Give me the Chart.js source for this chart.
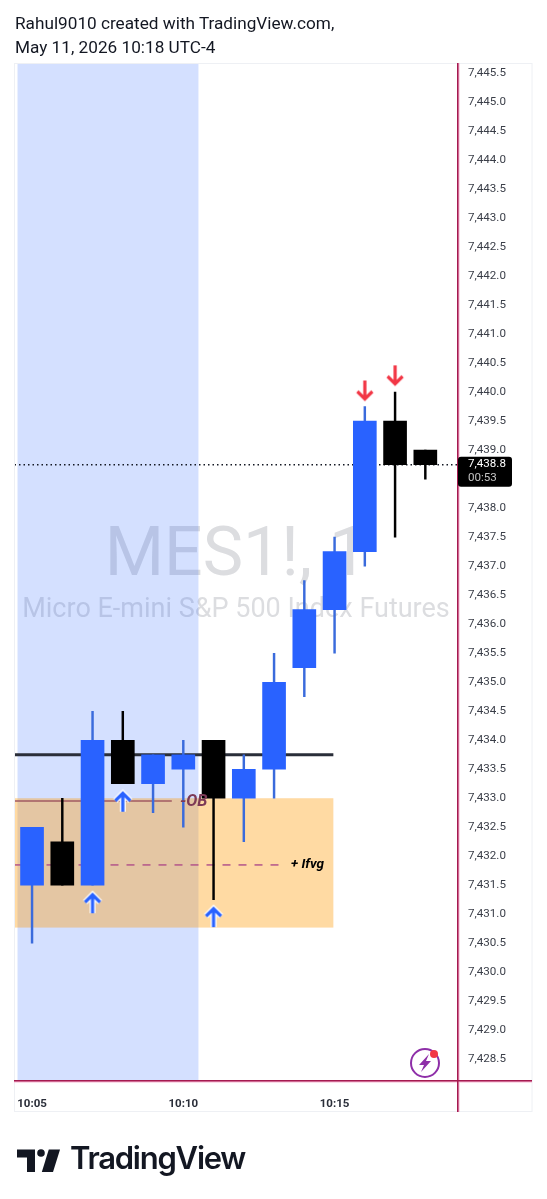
<!DOCTYPE html>
<html>
  <head>
    <script src="https://cdn.jsdelivr.net/npm/chart.js@4"></script>
    <style>
      html, body { margin: 0; padding: 0; background: #fff; }
      #wrap { position: relative; width: 547px; height: 1199px; overflow: hidden; }
      canvas { position: absolute; left: 0; top: 0; }
      .title { position: absolute; left: 15px; font: 17.2px Roboto, sans-serif; color: #131722; white-space: nowrap; }
      #brand { position: absolute; left: 70px; top: 1139px; font: 600 31px Inter, sans-serif; letter-spacing: -1.25px; color: #131722; }
      svg { position: absolute; left: 0; top: 0; }
    </style>
  </head>
  <body>
    <div id="wrap">
      <canvas id="myChart" width="547" height="1199"></canvas>
      <div class="title" style="top:13px">Rahul9010 created with TradingView.com,</div>
      <div class="title" style="top:37px">May 11, 2026 10:18 UTC-4</div>
      <svg width="547" height="1199">
        <path d="M17 1149.5H35V1172H27V1157.5H17Z" fill="#131722"/>
        <circle cx="41" cy="1153" r="3.8" fill="#131722"/>
        <path d="M48.8 1149.5H60L53 1172H41.8Z" fill="#131722"/>
        <circle cx="425" cy="1063" r="14" fill="none" stroke="#8e2fa8" stroke-width="2"/>
        <path d="M429 1054L419 1065H424L421 1072L431 1061H426Z" fill="#8e2fa8"/>
        <circle cx="434" cy="1054" r="4" fill="#f23645"/>
      </svg>
      <div id="brand">TradingView</div>
    </div>

    <script>
      var timeTicks = [0, 5, 10];
      var timeLabels = ["10:05", "10:10", "10:15"];

      var openArr  = [7431.5, 7432.25, 7431.5, 7434, 7433.25, 7433.5, 7434, 7433, 7433.5, 7435.25, 7436.25, 7437.25, 7439.5, 7439];
      var closeArr = [7432.5, 7431.5, 7434, 7433.25, 7433.75, 7433.75, 7433, 7433.5, 7435, 7436.25, 7437.25, 7439.5, 7438.75, 7438.75];
      var highArr  = [7432.5, 7433, 7434.5, 7434.5, 7433.75, 7434, 7434, 7433.75, 7435.5, 7436.75, 7437.5, 7439.75, 7440, 7439];
      var lowArr   = [7430.5, 7431.5, 7431.5, 7433.25, 7432.75, 7432.5, 7431.25, 7432.25, 7433, 7434.75, 7435.5, 7437, 7437.5, 7438.5];

      var upArrowX = [2, 3, 6];
      var upArrowY = [7431.19, 7432.94, 7430.95];
      var downArrowX = [11, 12];
      var downArrowY = [7440.03, 7440.29];

      var sessionBand = [-0.48, 5.5];
      var zoneX = [-0.58, 9.96];
      var zoneY = [7433, 7430.77];

      var lastPrice = 7438.75;
      var blackLevel = 7433.75;
      var obLevel = 7432.95;
      var obEnd = 4.62;
      var ifvgLevel = 7431.85;
      var ifvgEnd = 8.3;

      var candleData = [], wickData = [], candleColors = [], wickColors = [];
      for (var i = 0; i < openArr.length; i++) {
        candleData.push({ x: i, y: [openArr[i], closeArr[i]] });
        wickData.push({ x: i, y: [lowArr[i], highArr[i]] });
        var up = closeArr[i] > openArr[i];
        candleColors.push(up ? "#2962ff" : "#000000");
        wickColors.push(up ? "#3a6bdc" : "#000000");
      }

      function arrowImage(color, down, outline) {
        var c = document.createElement("canvas");
        c.width = 28; c.height = 30;
        var g = c.getContext("2d");
        g.translate(14, 15);
        if (down) g.scale(1, -1);
        function path() {
          g.beginPath();
          g.moveTo(0, 10); g.lineTo(0, -8.5);
          g.moveTo(-7.5, -1); g.lineTo(0, -8.5); g.lineTo(7.5, -1);
        }
        if (outline) { g.strokeStyle = "#fff"; g.lineWidth = 6; path(); g.stroke(); }
        g.strokeStyle = color; g.lineWidth = 3.2; path(); g.stroke();
        return c;
      }

      function levelLine(y, x0, x1, color, width, dash) {
        return {
          type: "line",
          data: [{ x: x0, y: y }, { x: x1, y: y }],
          borderColor: color,
          borderWidth: width,
          borderDash: dash || [],
          pointRadius: 0,
          order: 10
        };
      }

      var backdrop = {
        id: "backdrop",
        beforeDatasetsDraw: function (chart) {
          var g = chart.ctx, a = chart.chartArea, sx = chart.scales.x, sy = chart.scales.y;
          g.save();
          g.textAlign = "center";
          g.textBaseline = "alphabetic";
          g.fillStyle = "#dcdde0";
          g.font = "68px Roboto";
          g.fillText("MES1!, 1", 236, 575);
          g.font = "27px Roboto";
          g.fillText("Micro E-mini S&P 500 Index Futures", 236, 617);
          g.fillStyle = "rgba(41,98,255,0.2)";
          var bx0 = sx.getPixelForValue(sessionBand[0]), bx1 = sx.getPixelForValue(sessionBand[1]);
          g.fillRect(bx0, a.top, bx1 - bx0, a.bottom - a.top);
          g.fillStyle = "rgba(255,152,0,0.36)";
          var zx0 = sx.getPixelForValue(zoneX[0]), zx1 = sx.getPixelForValue(zoneX[1]);
          var zy0 = sy.getPixelForValue(zoneY[0]), zy1 = sy.getPixelForValue(zoneY[1]);
          g.fillRect(zx0, zy0, zx1 - zx0, zy1 - zy0);
          g.restore();
        },
        afterDatasetsDraw: function (chart) {
          var g = chart.ctx, a = chart.chartArea, sx = chart.scales.x, sy = chart.scales.y;
          g.save();
          g.textBaseline = "middle";
          g.textAlign = "left";
          g.fillStyle = "#7d3a56";
          g.font = "italic bold 16.5px Roboto";
          g.fillText("-OB", 180, sy.getPixelForValue(obLevel) + 1);
          g.fillStyle = "#000";
          g.font = "italic bold 13.5px Roboto";
          g.fillText("+ Ifvg", 291, sy.getPixelForValue(ifvgLevel));

          // frame and crosshair lines
          g.strokeStyle = "#eef0f4";
          g.lineWidth = 1;
          g.strokeRect(14.5, 63.5, 517.5, 1048);
          g.fillStyle = "#f7b6d2";
          g.fillRect(a.right, a.top, 1.5, 1112 - a.top);
          g.fillRect(14, a.bottom, 518, 1.5);
          g.fillStyle = "#a51a50";
          g.fillRect(a.right - 1, a.top, 1.5, 1112 - a.top);
          g.fillRect(14, a.bottom - 1, 518, 1.5);

          // last price tag
          var py = sy.getPixelForValue(lastPrice);
          g.fillStyle = "#000";
          g.beginPath();
          g.roundRect(a.right, py - 8, 54, 30, 3);
          g.fill();
          g.textAlign = "left";
          g.fillStyle = "#fff";
          g.font = "11.6px Roboto";
          g.fillText("7,438.8", a.right + 10, py - 0.5);
          g.fillStyle = "#c4c4c4";
          g.fillText("00:53", a.right + 10, py + 13.5);
          g.restore();
        }
      };

      new Chart("myChart", {
        type: "bar",
        data: {
          datasets: [
            levelLine(lastPrice, -0.58, 14.08, "#131722", 1.5, [1.5, 3]),
            levelLine(blackLevel, zoneX[0], zoneX[1], "#2a2e39", 3),
            levelLine(obLevel, zoneX[0], obEnd, "#a25a62", 1.5),
            levelLine(ifvgLevel, zoneX[0], ifvgEnd, "#b3568a", 1.5, [8, 8]),
            { data: wickData, backgroundColor: wickColors, barThickness: 1.8, grouped: false, order: 5 },
            { data: candleData, backgroundColor: candleColors, barThickness: 23, grouped: false, order: 4 },
            {
              type: "scatter",
              data: upArrowX.map(function (x, i) { return { x: x, y: upArrowY[i] }; }),
              pointStyle: arrowImage("#2962ff", false, true),
              order: 1
            },
            {
              type: "scatter",
              data: downArrowX.map(function (x, i) { return { x: x, y: downArrowY[i] }; }),
              pointStyle: arrowImage("#f23645", true, false),
              order: 1
            }
          ]
        },
        plugins: [backdrop],
        options: {
          responsive: false,
          animation: false,
          layout: { padding: { left: 14.5, top: 63, right: 15, bottom: 87 } },
          plugins: { legend: { display: false }, tooltip: { enabled: false } },
          scales: {
            x: {
              type: "linear",
              offset: false,
              min: -0.58,
              max: 14.08,
              grid: { display: false },
              border: { display: false },
              afterBuildTicks: function (axis) {
                axis.ticks = timeTicks.map(function (v) { return { value: v }; });
              },
              afterFit: function (axis) { axis.height = 31; },
              ticks: {
                autoSkip: false,
                maxRotation: 0,
                padding: 8,
                color: "#2a2e39",
                font: { family: "Roboto", size: 11.5, weight: "bold" },
                callback: function (v) { return timeLabels[timeTicks.indexOf(v)]; }
              }
            },
            y: {
              position: "right",
              min: 7428.125,
              max: 7445.675,
              grid: { display: false },
              border: { display: false },
              afterFit: function (axis) { axis.width = 74; },
              ticks: {
                stepSize: 0.5,
                autoSkip: false,
                includeBounds: false,
                padding: 2,
                color: "#3a3e48",
                font: { family: "Roboto", size: 11.6 },
                callback: function (v) {
                  return v.toLocaleString("en-US", { minimumFractionDigits: 1, maximumFractionDigits: 1 });
                }
              }
            }
          }
        }
      });
    </script>
  </body>
</html>
